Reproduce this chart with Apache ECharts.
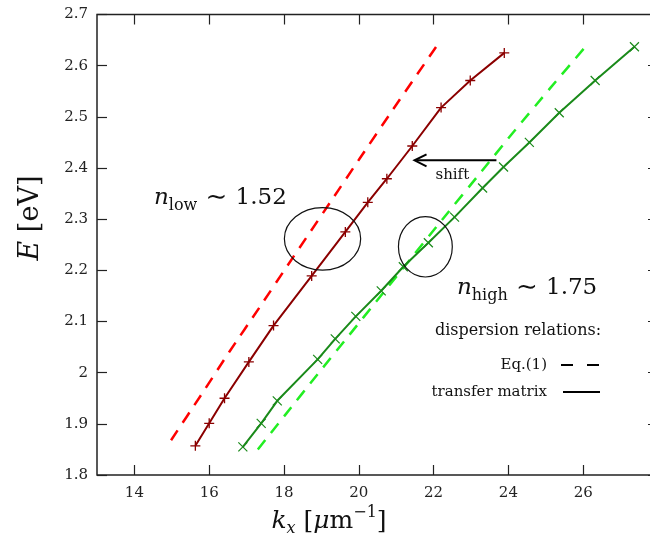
<!DOCTYPE html>
<html>
<head>
<meta charset="utf-8">
<script src="https://cdn.jsdelivr.net/npm/echarts@6/dist/echarts.min.js"></script>
<style>html,body{margin:0;padding:0;background:#fff}#main{width:650px;height:544px}</style>
</head>
<body>
<div id="main"></div>
<script>
// n_low, transfer matrix (+ markers)
var lowTmK = [15.63, 16.0, 16.41, 17.06, 17.72, 18.74, 19.64, 20.24, 20.75, 21.43, 22.2, 22.98, 23.89];
var lowTmE = [1.857, 1.901, 1.95, 2.021, 2.092, 2.189, 2.275, 2.333, 2.379, 2.443, 2.518, 2.571, 2.625];
// n_low, Eq.(1)
var lowEqK = [14.98, 15.78, 16.54, 17.34, 18.1, 18.59, 19.3, 20.02, 20.91, 22.07];
var lowEqE = [1.868, 1.956, 2.041, 2.127, 2.21, 2.263, 2.34, 2.418, 2.514, 2.637];
// n_high, transfer matrix (x markers)
var highTmK = [16.9, 17.39, 17.82, 18.9, 19.37, 19.92, 20.6, 21.19, 21.86, 22.56, 23.31, 23.87, 24.56, 25.36, 26.32, 27.37];
var highTmE = [1.855, 1.901, 1.945, 2.026, 2.066, 2.11, 2.16, 2.207, 2.254, 2.304, 2.361, 2.402, 2.45, 2.508, 2.571, 2.637];
// n_high, Eq.(1)
var highEqK = [17.3, 18.06, 18.9, 19.75, 20.51, 21.17, 22.24, 23.29, 24.11, 25.14, 26.06];
var highEqE = [1.85, 1.92, 1.997, 2.074, 2.143, 2.203, 2.3, 2.394, 2.468, 2.558, 2.637];
var xTicks = [14, 16, 18, 20, 22, 24, 26];

var dom = document.getElementById("main");
var myChart = echarts.init(dom);

function pairs(xs, ys) {
    return xs.map(function (x, i) { return [x, ys[i]]; });
}
var serif = 'DejaVu Serif';
var plus = 'path://M0,5L10,5M5,0L5,10';
var cross = 'path://M0,0L10,10M10,0L0,10';

function tick(show) {
    return {show: show, inside: true, length: 10, lineStyle: {color: '#222', width: 1.2}};
}

var option = {
    animation: false,
    grid: {left: 97, right: -8, top: 14.5, bottom: 69, outerBoundsMode: 'none',
        show: true, borderColor: '#222', borderWidth: 1.5},
    xAxis: [{
        type: 'value', min: 13, max: 28,
        axisLine: {show: false}, splitLine: {show: false},
        axisTick: Object.assign(tick(true), {customValues: xTicks}),
        axisLabel: {customValues: xTicks, fontFamily: serif, fontSize: 15, color: '#222', margin: 11}
    }, {
        type: 'value', min: 13, max: 28, position: 'top',
        axisLine: {show: false}, splitLine: {show: false},
        axisTick: Object.assign(tick(true), {customValues: xTicks}),
        axisLabel: {show: false}
    }],
    yAxis: [{
        type: 'value', min: 1.8, max: 2.7, interval: 0.1,
        axisLine: {show: false}, splitLine: {show: false},
        axisTick: tick(true),
        axisLabel: {fontFamily: serif, fontSize: 15, color: '#222', margin: 9}
    }, {
        type: 'value', min: 1.8, max: 2.7, interval: 0.1, position: 'right',
        axisLine: {show: false}, splitLine: {show: false},
        axisTick: tick(true), axisLabel: {show: false}
    }],
    series: [{
        name: 'low Eq.(1)', type: 'line', data: pairs(lowEqK, lowEqE), showSymbol: false, smooth: 0.2,
        lineStyle: {color: '#ff0000', width: 2.5, type: [12, 9]}
    }, {
        name: 'high Eq.(1)', type: 'line', data: pairs(highEqK, highEqE), showSymbol: false, smooth: 0.2,
        lineStyle: {color: '#22ee22', width: 2.5, type: [12, 9]}
    }, {
        name: 'low transfer matrix', type: 'line', data: pairs(lowTmK, lowTmE),
        symbol: plus, symbolSize: 10,
        lineStyle: {color: '#8b0000', width: 2},
        itemStyle: {color: 'transparent', borderColor: '#8b0000', borderWidth: 1.3}
    }, {
        name: 'high transfer matrix', type: 'line', data: pairs(highTmK, highTmE),
        symbol: cross, symbolSize: 9,
        lineStyle: {color: '#1a8a1a', width: 2},
        itemStyle: {color: 'transparent', borderColor: '#1a8a1a', borderWidth: 1.2}
    }]
};
myChart.setOption(option, true);

// annotations, placed in data coordinates
function px(x, y) { return myChart.convertToPixel({gridIndex: 0}, [x, y]); }
function ellipse(cx, cy, rx, ry) {
    var c = px(cx, cy), e = px(cx + rx, cy + ry);
    return {type: 'ellipse', shape: {cx: c[0], cy: c[1], rx: e[0] - c[0], ry: c[1] - e[1]},
        style: {fill: 'none', stroke: '#111', lineWidth: 1.2}, z: 100};
}
var a0 = px(23.68, 2.415), a1 = px(21.49, 2.415);
var sh = px(22.5, 2.386), nl = px(16.3, 2.341), nh = px(24.5, 2.165);

var mathRich = {
    i: {fontFamily: serif, fontStyle: 'italic', fontSize: 23, lineHeight: 32, verticalAlign: 'middle'},
    r: {fontFamily: serif, fontSize: 23, lineHeight: 32, verticalAlign: 'middle'},
    t: {fontFamily: serif, fontSize: 26, lineHeight: 32, verticalAlign: 'middle'},
    sub: {fontFamily: serif, fontSize: 16, lineHeight: 18, verticalAlign: 'bottom'}
};

var graphics = [
    ellipse(19.03, 2.2615, 1.02, 0.061),
    ellipse(21.78, 2.246, 0.72, 0.059),
    {type: 'line', shape: {x1: a0[0], y1: a0[1], x2: a1[0] + 2, y2: a1[1]}, style: {stroke: '#000', lineWidth: 2}, z: 100},
    {type: 'polyline', shape: {points: [[a1[0] + 12, a1[1] - 6], [a1[0], a1[1]], [a1[0] + 12, a1[1] + 6]]},
        style: {stroke: '#000', fill: 'none', lineWidth: 2}, z: 100},
    {type: 'text', x: sh[0], y: sh[1], style: {text: 'shift', fontFamily: serif, fontSize: 15, fill: '#111', align: 'center', verticalAlign: 'middle'}, z: 100},
    {type: 'text', x: nl[0], y: nl[1], style: {text: '{i|n}{sub|low}{t| ∼ }{r|1.52}', rich: mathRich, fill: '#111', align: 'center', verticalAlign: 'middle'}, z: 100},
    {type: 'text', x: nh[0], y: nh[1], style: {text: '{i|n}{sub|high}{t| ∼ }{r|1.75}', rich: mathRich, fill: '#111', align: 'center', verticalAlign: 'middle'}, z: 100},
    // legend block
    {type: 'text', x: 518, y: 331, style: {text: 'dispersion relations:', fontFamily: serif, fontSize: 16, fill: '#111', align: 'center', verticalAlign: 'middle'}, z: 100},
    {type: 'text', x: 547, y: 365, style: {text: 'Eq.(1)', fontFamily: serif, fontSize: 15, fill: '#111', align: 'right', verticalAlign: 'middle'}, z: 100},
    {type: 'line', shape: {x1: 561, y1: 365, x2: 600, y2: 365}, style: {stroke: '#000', lineWidth: 2.2, lineDash: [12, 14]}, z: 100},
    {type: 'text', x: 547, y: 392, style: {text: 'transfer matrix', fontFamily: serif, fontSize: 15, fill: '#111', align: 'right', verticalAlign: 'middle'}, z: 100},
    {type: 'line', shape: {x1: 563, y1: 392, x2: 600, y2: 392}, style: {stroke: '#000', lineWidth: 2}, z: 100},
    // axis names
    {type: 'text', x: 31, y: 218, rotation: Math.PI / 2,
        style: {text: '{i|E} [eV]', rich: {i: {fontFamily: serif, fontStyle: 'italic', fontSize: 27}},
            fontFamily: serif, fontSize: 27, fill: '#111', align: 'center', verticalAlign: 'middle'}, z: 100},
    {type: 'text', x: 329, y: 521,
        style: {text: '{i|k}{sub|x}{r| [}{i|μ}{r|m}{sup|−1}{r|]}',
            rich: {
                i: {fontFamily: serif, fontStyle: 'italic', fontSize: 25, lineHeight: 32, verticalAlign: 'middle'},
                r: {fontFamily: serif, fontSize: 25, lineHeight: 32, verticalAlign: 'middle'},
                sub: {fontFamily: serif, fontStyle: 'italic', fontSize: 16, lineHeight: 16, verticalAlign: 'bottom'},
                sup: {fontFamily: serif, fontSize: 16, lineHeight: 16, verticalAlign: 'top'}
            },
            fill: '#111', align: 'center', verticalAlign: 'middle'}, z: 100}
];
myChart.setOption({graphic: graphics});
</script>
</body>
</html>
